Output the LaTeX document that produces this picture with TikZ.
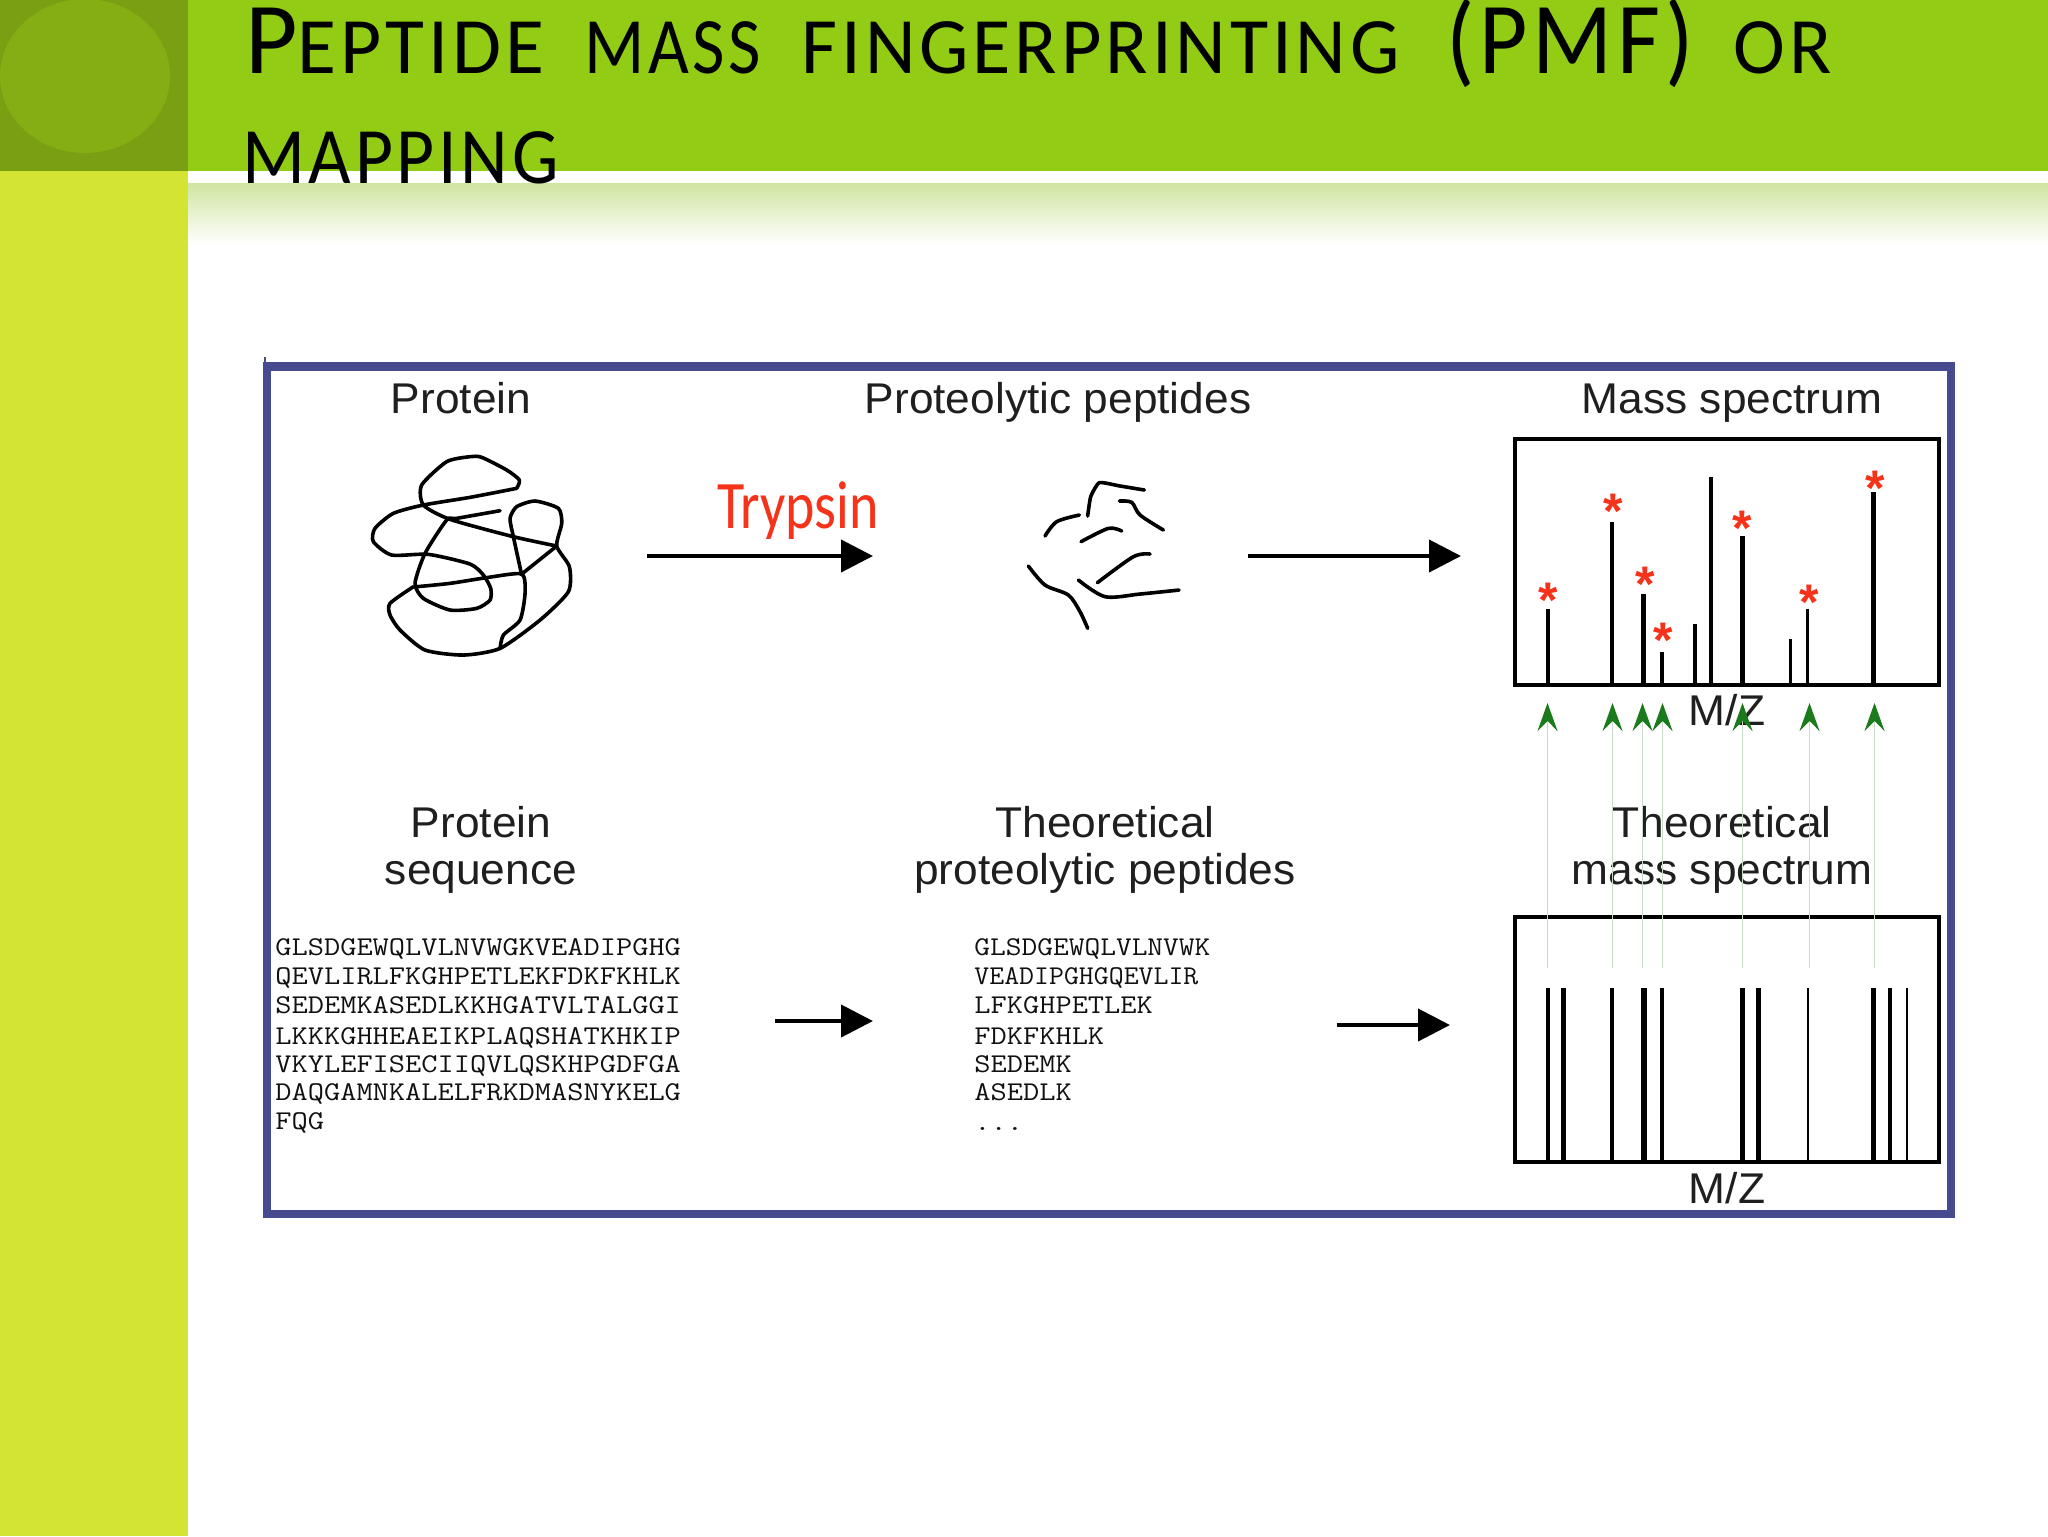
\documentclass[tikz,border=0pt]{standalone}
\usepackage{fontspec}
\usepackage{graphicx}
\usetikzlibrary{arrows.meta}
\setmainfont{Liberation Sans}
\newfontfamily\titlefont[LetterSpace=5]{Carlito}
\newfontfamily\trypfont{Carlito}
\newcommand{\bigc}[1]{{\fontsize{51}{51}\selectfont #1}}
\newcommand{\tw}[2]{\resizebox{#1pt}{\height}{#2}}
\newcommand{\sx}[1]{\scalebox{1.03}[1]{#1}}
\newcommand{\sq}[1]{\scalebox{1}[0.86]{#1}}
\definecolor{hgreen}{HTML}{92CC14}
\definecolor{hdark}{HTML}{7A9F12}
\definecolor{hell}{HTML}{85AE14}
\definecolor{barlime}{HTML}{D4E433}
\definecolor{frameblue}{HTML}{464A8E}
\definecolor{bandtop}{HTML}{CFE5A0}
\definecolor{starred}{HTML}{F5331A}
\definecolor{headgreen}{HTML}{1B7A1B}
\definecolor{faint}{HTML}{CBDACB}
\definecolor{seqgray}{HTML}{111111}
\tikzset{
  lab/.style={anchor=base,inner sep=0pt,font=\fontsize{21.5}{24.5}\selectfont,text=black!88},
  seqline/.style={anchor=base west,inner sep=0pt,text=seqgray,font=\ttfamily\fontsize{15.75}{15.75}\selectfont},
  blackarrow/.style={line width=2pt,-{Triangle[length=16pt,width=16pt]}},
  greenarrow/.style={line width=0.7pt,draw=faint,-{Stealth[length=14pt,width=10pt,inset=5pt,color=headgreen]}},
  scribble/.style={line width=1.8pt,line cap=round,line join=round},
  plotbox/.style={draw=black,line width=2pt,fill=none},
  starlab/.style={anchor=base,inner sep=0pt,text=starred,font=\bfseries\fontsize{25}{25}\selectfont}
}
\begin{document}
\begin{tikzpicture}[x=0.5pt,y=-0.5pt]
\useasboundingbox (0,0) rectangle (2048,1536);
% slide background
\fill[white] (0,0) rectangle (2048,1536);
\fill[barlime] (0,0) rectangle (188,1536);
\fill[hgreen] (188,0) rectangle (2048,171);
\fill[hdark] (0,0) rectangle (188,171);
\fill[hell] (85,76) ellipse [x radius=85,y radius=77];
\shade[top color=bandtop,bottom color=white] (188,183) rectangle (2048,244);
% title
\node[anchor=base west,inner sep=0pt,text=black] (title1) at (245,74)
  {\titlefont\fontsize{40}{40}\selectfont\tw{149.5}{\bigc{P}EPTIDE}\hspace{20.2pt}\tw{88.2}{MASS}\hspace{20.2pt}\tw{299}{FINGERPRINTING}\hspace{23.5pt}\tw{123.4}{\bigc{(PMF)}}\hspace{20.2pt}\tw{49}{OR}};
\node[anchor=base west,inner sep=0pt,text=black] (title2) at (242,183)
  {\tw{158}{\titlefont\fontsize{40}{40}\selectfont MAPPING}};
% frame
\draw[frameblue,line width=4.4pt] (267,366.5) rectangle (1951,1214);
\coordinate (ticka) at (265,357); \coordinate (tickb) at (265,364);
\draw[frameblue,line width=0.6pt] (ticka) -- (tickb);
% labels
\node[lab] (lprotein) at (461,413) {\sx{Protein}};
\node[lab] (lpeptides) at (1058,413) {\sx{Proteolytic peptides}};
\node[lab] (lmass) at (1732,413) {\sx{Mass spectrum}};
\node[lab] (lseqa) at (481,837) {\sx{Protein}};
\node[lab] (lseqb) at (481,884) {\sx{sequence}};
\node[lab] (ltheoa) at (1105,837) {\sx{Theoretical}};
\node[lab] (ltheob) at (1105,884) {\sx{proteolytic peptides}};
\node[lab] (ltmassa) at (1722,837) {\sx{Theoretical}};
\node[lab] (ltmassb) at (1722,884) {\sx{mass spectrum}};
\node[lab] (mz1) at (1727,725) {\sx{M/Z}};
\node[lab] (mz2) at (1727,1203) {\sx{M/Z}};
\node[inner sep=0pt,text=starred] (tryp) at (798,511) {\resizebox{81pt}{\height}{\trypfont\fontsize{34}{34}\selectfont Trypsin}};
% protein scribble
\begin{scope}[shift={(300,420)},x=0.1667pt,y=-0.1667pt]
\draw[scribble] plot[smooth,tension=.4] coordinates {(650,205)(658,180)(620,150)(545,112)(510,110)(440,125)(365,195)(370,255)(450,298)(640,350)(770,378)};
\draw[scribble] plot[smooth,tension=.4] coordinates {(650,205)(510,232)(370,255)(280,280)(225,325)(220,365)(275,405)(385,403)(510,432)(550,465)(572,505)(570,540)(530,565)(450,570)(370,535)(345,490)(375,400)(440,300)(470,295)(600,272)};
\draw[scribble] plot[smooth,tension=.4] coordinates {(340,500)(270,550)(270,585)(300,630)(375,690)(490,705)(600,685)(720,600)(805,515)(808,440)(770,378)(785,310)(775,265)(705,243)(650,260)(630,295)(640,350)(665,465)};
\draw[scribble] plot[smooth,tension=.4] coordinates {(350,500)(450,490)(565,472)(665,462)(675,520)(660,600)(610,645)(600,685)};
\draw[scribble] (665,462) -- (770,378);
\end{scope}
% peptides
\begin{scope}[shift={(980,440)},x=0.1667pt,y=-0.1667pt]
\draw[scribble] plot[smooth,tension=.5] coordinates {(195,288)(230,245)(298,225)};
\draw[scribble] plot[smooth,tension=.3] coordinates {(323,228)(332,170)(358,128)(420,138)(493,150)};
\draw[scribble] plot[smooth,tension=.5] coordinates {(418,183)(455,187)(480,225)(550,270)};
\draw[scribble] plot[smooth,tension=.5] coordinates {(303,305)(385,265)(425,273)};
\draw[scribble] plot[smooth,tension=.5] coordinates {(352,428)(460,350)(510,342)};
\draw[scribble] plot[smooth,tension=.5] coordinates {(295,420)(375,470)(480,462)(597,450)};
\draw[scribble] plot[smooth,tension=.5] coordinates {(145,378)(195,435)(265,465)(300,515)(323,565)};
\end{scope}
% black arrows
\coordinate (a1s) at (647,556); \coordinate (a1e) at (873,556);
\coordinate (a2s) at (1248,556); \coordinate (a2e) at (1461,556);
\coordinate (a3s) at (775,1021); \coordinate (a3e) at (873,1021);
\coordinate (a4s) at (1337,1025); \coordinate (a4e) at (1450,1025);
\draw[blackarrow] (a1s) -- (a1e);
\draw[blackarrow] (a2s) -- (a2e);
\draw[blackarrow] (a3s) -- (a3e);
\draw[blackarrow] (a4s) -- (a4e);
\begin{scope}[shift={(-1.5,0)}]
% spectrum
\draw[plotbox] (1516,439) rectangle (1940,685);
\foreach \x/\t/\w in {1549/609/2,1613.5/522/2,1645.4/594/2.5,1663.6/652/2.2,1696/624/2,1712/477/2,1743.8/536/2.5,1792/639/1.5,1809/609/1.25,1874.6/492/2.5}
  \draw[line width=\w pt] (\x,\t) -- (\x,685);
\foreach \n/\x/\y in {s1/1550/588,s2/1615/499,s3/1647/572,s4/1665/628,s5/1744/516,s6/1810.5/590,s7/1877/476}
  \node[starlab] (\n) at (\x,\y+29) {*};
% theoretical spectrum
\draw[plotbox] (1516,917) rectangle (1940,1162);
\foreach \x/\w in {1549/2,1565/2.5,1613.5/2,1645.4/2.7,1663.6/2.2,1743.8/2.5,1760/2.2,1809/1,1874.6/2.5,1891/2,1908/1}
  \draw[line width=\w pt] (\x,988) -- (\x,1162);
% green arrows
\foreach \n/\x in {1/1549,2/1614,3/1644,4/1664,5/1744,6/1811,7/1876}{
  \coordinate (gb\n) at (\x,968);
  \coordinate (gt\n) at (\x,703);
  \draw[greenarrow] (gb\n) -- (gt\n);
}
\end{scope}
% sequences
\node[seqline] (q1) at (275,955.5) {\sq{GLSDGEWQLVLNVWGKVEADIPGHG}};
\node[seqline] (q2) at (275,984.5) {\sq{QEVLIRLFKGHPETLEKFDKFKHLK}};
\node[seqline] (q3) at (275,1013.5) {\sq{SEDEMKASEDLKKHGATVLTALGGI}};
\node[seqline] (q4) at (275,1044.5) {\sq{LKKKGHHEAEIKPLAQSHATKHKIP}};
\node[seqline] (q5) at (275,1072.5) {\sq{VKYLEFISECIIQVLQSKHPGDFGA}};
\node[seqline] (q6) at (275,1100.5) {\sq{DAQGAMNKALELFRKDMASNYKELG}};
\node[seqline] (q7) at (275,1129.5) {\sq{FQG}};
\node[seqline] (p1) at (974,955.5) {\resizebox{118pt}{\height}{\sq{GLSDGEWQLVLNVWK}}};
\node[seqline] (p2) at (974,984.5) {\resizebox{112pt}{\height}{\sq{VEADIPGHGQEVLIR}}};
\node[seqline] (p3) at (974,1013.5) {\sq{LFKGHPETLEK}};
\node[seqline] (p4) at (974,1044.5) {\sq{FDKFKHLK}};
\node[seqline] (p5) at (974,1072.5) {\sq{SEDEMK}};
\node[seqline] (p6) at (974,1100.5) {\sq{ASEDLK}};
\node[seqline] (p7) at (974,1130) {\sq{...}};
\end{tikzpicture}
\end{document}
